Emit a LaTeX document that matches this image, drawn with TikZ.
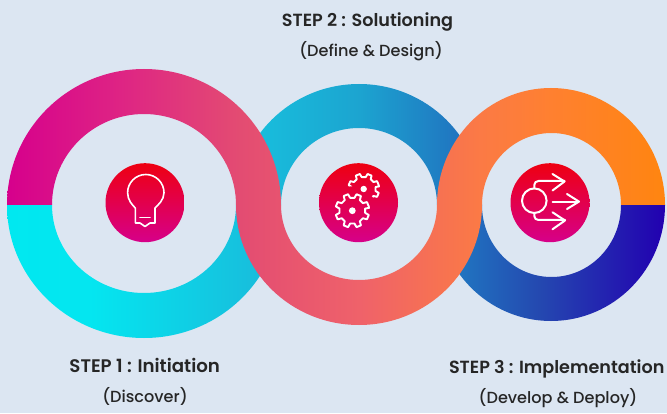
\documentclass[tikz,border=0pt]{standalone}
\usepackage{fontspec}
\setmainfont{Poppins}[UprightFont=* Medium,BoldFont=* SemiBold]
\definecolor{bgc}{HTML}{DCE6F2}
\definecolor{fa}{HTML}{D6008C}
\definecolor{fb}{HTML}{DE2484}
\definecolor{fc}{HTML}{E34C72}
\definecolor{fd}{HTML}{EF626A}
\definecolor{fe}{HTML}{FB7A45}
\definecolor{ff}{HTML}{FF8030}
\definecolor{fg}{HTML}{FF8510}
\definecolor{ba}{HTML}{00E8F0}
\definecolor{bb}{HTML}{04E6F0}
\definecolor{bc}{HTML}{18BDDC}
\definecolor{bd}{HTML}{1CA4D0}
\definecolor{be}{HTML}{2074C0}
\definecolor{bf}{HTML}{2448B0}
\definecolor{bg}{HTML}{2200B0}
\definecolor{discTop}{HTML}{EE0011}
\definecolor{discBot}{HTML}{D6008A}
\definecolor{txt}{HTML}{262626}
\pgfdeclarehorizontalshading{frontribbon}{100bp}{color(0bp)=(fa); color(25bp)=(fa); color(33.6bp)=(fb); color(42.7bp)=(fc); color(51.8bp)=(fd); color(61bp)=(fe); color(66.3bp)=(ff); color(75bp)=(fg); color(100bp)=(fg)}
\pgfdeclarehorizontalshading{backribbon}{100bp}{color(0bp)=(ba); color(25bp)=(ba); color(31.3bp)=(bb); color(44.2bp)=(bc); color(51.8bp)=(bd); color(59.4bp)=(be); color(65.5bp)=(bf); color(75bp)=(bg); color(100bp)=(bg)}
\newcommand{\halfarc}[4]{arc[start angle=#1,end angle=#2,x radius=#3 pt,y radius=#4 pt]}
\newcommand{\gearoutline}[5]{% ro, ri, half outer, half inner, phase
  (#5-#4:#1 pt) \foreach \k in {0,...,7} {
    -- ({#5+\k*45-#3}:#1 pt) -- ({#5+\k*45+#3}:#1 pt) -- ({#5+\k*45+#4}:#2 pt) -- ({#5+\k*45+45-#4}:#2 pt)
  } -- cycle}
\tikzset{
  x=1pt,y=1pt,
  disc/.style={circle,inner sep=0pt,minimum size=79pt,top color=discTop,bottom color=discBot},
  icon/.style={draw=white,line width=2pt,line join=round,line cap=round},
  headlabel/.style={anchor=base,text=txt,inner sep=0pt,font=\bfseries\fontsize{17.6}{20}\selectfont},
  sublabel/.style={anchor=base,text=txt,inner sep=0pt,font=\fontsize{16.1}{18}\selectfont},
}
\begin{document}
\begin{tikzpicture}
\fill[bgc] (0,0) rectangle (667,413);
\useasboundingbox (0,0) rectangle (667,413);
% back ribbon
\path[shading=backribbon] (7,208) \halfarc{180}{360}{137}{133} \halfarc{180}{0}{78}{77} \halfarc{180}{360}{114}{116}
  -- (621,208) \halfarc{360}{180}{69.5}{72} \halfarc{0}{180}{123}{121} \halfarc{360}{180}{92}{88} -- cycle;
% front ribbon
\path[shading=frontribbon] (7,208) \halfarc{180}{0}{137}{136} \halfarc{180}{360}{78}{75} \halfarc{180}{0}{114}{117}
  -- (621,208) \halfarc{0}{180}{69.5}{72} \halfarc{360}{180}{123}{120} \halfarc{0}{180}{92}{91} -- cycle;
% discs
\node[disc] (d1) at (145,210.3) {};
\node[disc] (d2) at (358.5,210.3) {};
\node[disc] (d3) at (550,210.3) {};
% bulb
\draw[icon,line width=1.6pt] (135.3,205) -- (135.3,190) -- (140,190) -- (145,186.5) -- (150,190) -- (155,190) -- (155,205)
  .. controls (158,208) and (164,213) .. (164,220.3) arc[start angle=0,end angle=180,radius=18.2pt]
  .. controls (127.6,213) and (132.3,208) .. (135.3,205);
\draw[icon,line width=1.6pt] (140,195.3) -- (150,195.3);
% gears
\begin{scope}[shift={(352.3,202.3)}]
  \draw[icon,line width=1.9pt] \gearoutline{17}{13}{8}{13}{22.5};
  \fill[white] (0,0) circle (3.4pt);
\end{scope}
\begin{scope}[even odd rule]
  \clip (320,170) rectangle (400,250) (352.3,202.3) circle (24.5pt);
  \begin{scope}[shift={(363.7,224)}]
    \draw[icon,line width=1.9pt] \gearoutline{15.5}{12}{8}{13}{22.5};
  \end{scope}
\end{scope}
\fill[white] (363.7,224) circle (3.2pt);
% flow icon
\draw[icon] (534.3,212.3) circle (12.3pt);
\draw[icon] (534.3,224.6) -- (534.3,228) arc[start angle=180,end angle=90,radius=4pt] -- (564.5,232);
\draw[icon] (552.5,239) -- (564.5,231.5) -- (552.5,222.5);
\draw[icon] (552.5,211.4) -- (578,211.4);
\draw[icon] (567,219) -- (579,211.4) -- (567,204);
\draw[icon] (534.3,200) -- (534.3,197) arc[start angle=180,end angle=270,radius=4pt] -- (565,193);
\draw[icon] (552.5,200.7) -- (565,192.5) -- (552.5,183.7);
% labels
\node[headlabel] (s2) at (367.5,386) {STEP 2 : Solutioning};
\node[sublabel] (s2b) at (371,356) {(Define \& Design)};
\node[headlabel,font=\bfseries\fontsize{18.2}{20}\selectfont] (s1) at (144.7,41) {STEP 1 : Initiation};
\node[sublabel] (s1b) at (145,11) {(Discover)};
\node[headlabel] (s3) at (556.7,40) {STEP 3 : Implementation};
\node[sublabel] (s3b) at (558,10) {(Develop \& Deploy)};
\end{tikzpicture}
\end{document}
